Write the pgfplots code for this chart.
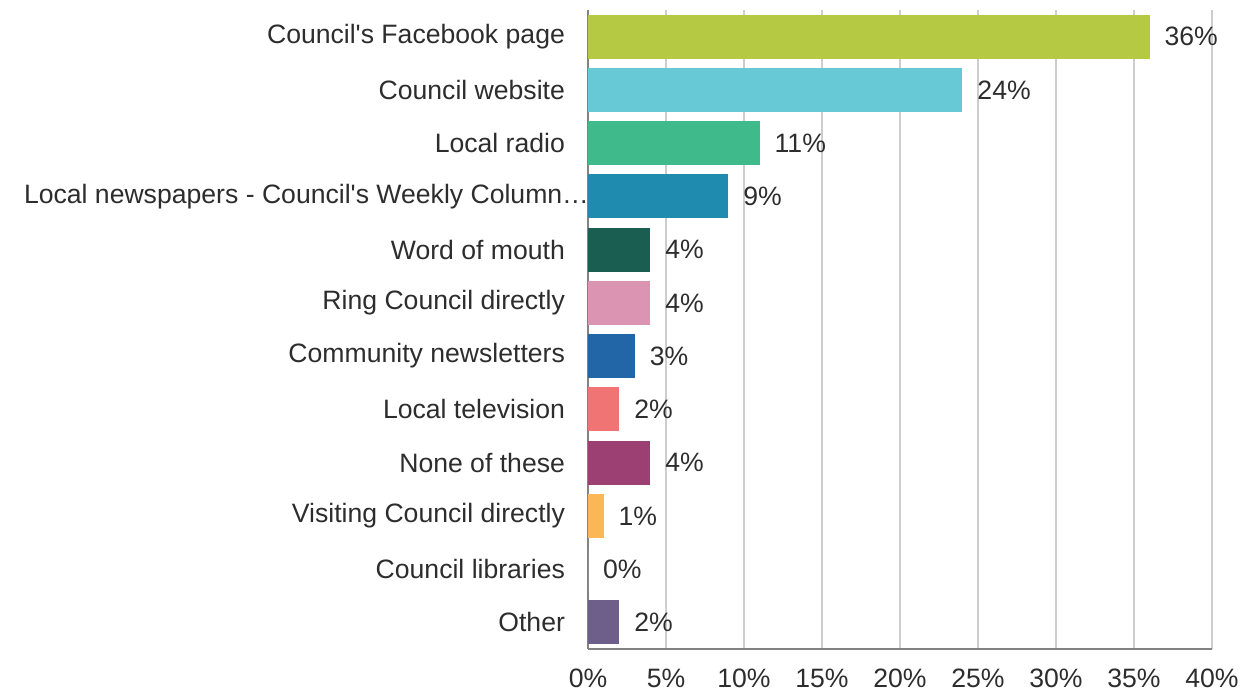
\documentclass[border=0pt]{standalone}
\usepackage{fontspec}
\setmainfont{Liberation Sans}
\usepackage{pgfplots}
\pgfplotsset{compat=1.18}
\definecolor{cA}{RGB}{182,201,66}
\definecolor{cB}{RGB}{104,201,214}
\definecolor{cC}{RGB}{63,186,138}
\definecolor{cD}{RGB}{31,139,175}
\definecolor{cE}{RGB}{26,94,82}
\definecolor{cF}{RGB}{219,149,179}
\definecolor{cG}{RGB}{35,102,168}
\definecolor{cH}{RGB}{240,116,116}
\definecolor{cI}{RGB}{156,63,114}
\definecolor{cJ}{RGB}{251,182,85}
\definecolor{cK}{RGB}{200,200,200}
\definecolor{cL}{RGB}{110,95,138}
\definecolor{txt}{RGB}{45,45,45}
\definecolor{axgrey}{RGB}{130,130,130}
\definecolor{gridgrey}{RGB}{205,205,205}
\newcommand{\lf}{\fontsize{13.3}{16}\selectfont}
\begin{document}
\begin{tikzpicture}
\begin{axis}[
  at={(0,0)}, anchor=south west,
  scale only axis, width=312pt, height=319.5pt,
  xbar, bar width=22pt, bar shift=0pt,
  xmin=0, xmax=40, xtick={0,5,...,40},
  xticklabels={0\%,5\%,10\%,15\%,20\%,25\%,30\%,35\%,40\%},
  ymin=-0.5, ymax=11.5, y dir=reverse, ytick={0,...,11},
  yticklabels={Council\textquotesingle s Facebook page, Council website, Local radio,
    {Local newspapers - Council\textquotesingle s Weekly Column…\kern-12pt},
    Word of mouth, Ring Council directly, Community newsletters, Local television,
    None of these, Visiting Council directly, Council libraries, Other},
  xmajorgrids, grid style={line width=0.8pt, draw=gridgrey},
  axis x line*=bottom, axis y line*=left,
  axis line style={-, draw=axgrey, line width=1pt},
  major tick length=0pt,
  /pgf/number format/assume math mode=true,
  tick label style={font=\lf, text=txt},
  xticklabel style={inner ysep=0.5pt, text depth=0pt, yshift=-9.5pt},
  yticklabel style={xshift=-8pt},
  nodes near coords={\pgfmathprintnumber{\pgfplotspointmeta}\%},
  nodes near coords style={font=\lf, text=txt, xshift=4pt},
  every axis plot/.append style={draw=none},
]
\addplot[fill=cA] coordinates {(36,0)};
\addplot[fill=cB] coordinates {(24,1)};
\addplot[fill=cC] coordinates {(11,2)};
\addplot[fill=cD] coordinates {(9,3)};
\addplot[fill=cE] coordinates {(4,4)};
\addplot[fill=cF] coordinates {(4,5)};
\addplot[fill=cG] coordinates {(3,6)};
\addplot[fill=cH] coordinates {(2,7)};
\addplot[fill=cI] coordinates {(4,8)};
\addplot[fill=cJ] coordinates {(1,9)};
\addplot[fill=cK] coordinates {(0,10)};
\addplot[fill=cL] coordinates {(2,11)};
\end{axis}
\pgfresetboundingbox
\path[use as bounding box] (-294pt,-22.5pt) rectangle (327pt,324.5pt);
\end{tikzpicture}
\end{document}
